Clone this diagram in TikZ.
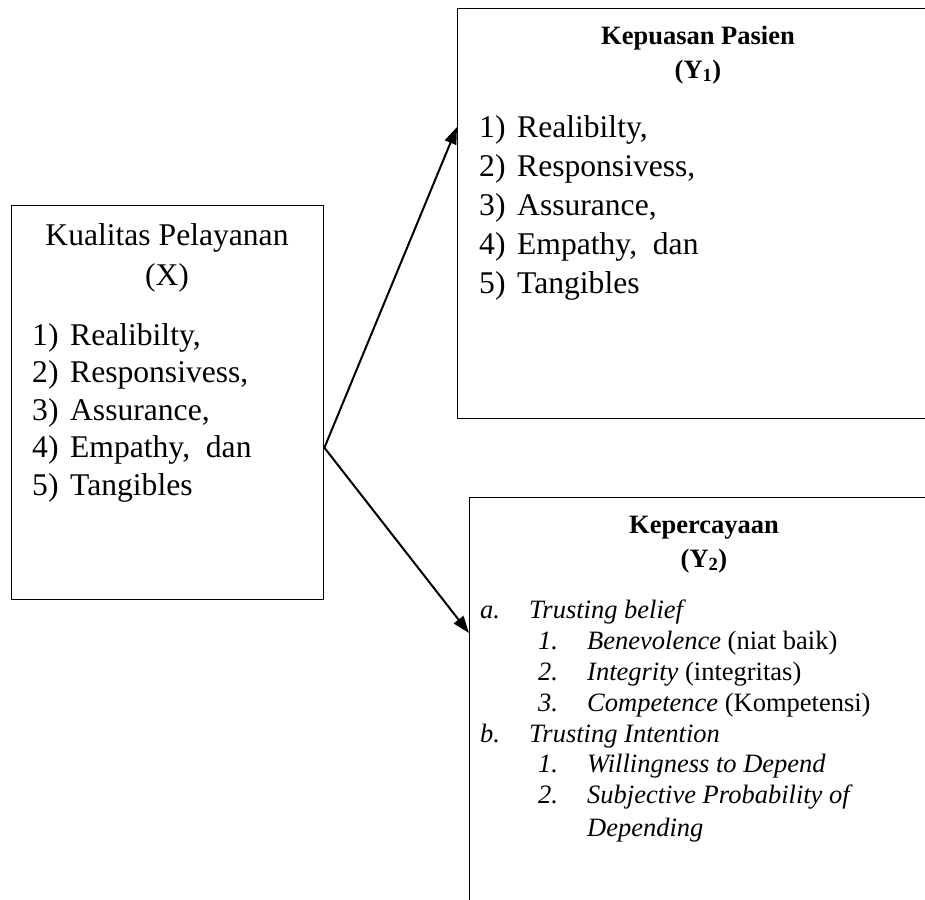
\documentclass[tikz,border=0pt]{standalone}
\usepackage{fontspec}
\setmainfont{Liberation Serif}
\usetikzlibrary{arrows.meta,calc}

\tikzset{
  box/.style={draw, line width=1.4pt, inner sep=0pt, anchor=north west},
  big/.style={font=\fontsize{31.6}{37.5}\selectfont},
  item/.style={anchor=base west, inner sep=0pt},
  head/.style={anchor=base, inner sep=0pt, font={\fontsize{26.5}{31}\selectfont\bfseries}},
  sub/.style={item, font={\fontsize{26.5}{31}\selectfont\itshape}},
  link/.style={-{Triangle[length=17pt,width=12pt]}, line width=2pt},
}

\begin{document}
\begin{tikzpicture}[x=1pt,y=-1pt]
    \clip (0,0) rectangle (925,899);

    % Boxes
    \node[box, minimum width=560pt, minimum height=410pt] (sat) at (457,8) {};
    \node[box, minimum width=312pt, minimum height=394pt] (qual) at (11,205) {};
    \node[box, minimum width=560pt, minimum height=460pt] (trust) at (469,497) {};

    % Kualitas Pelayanan
    \node[big, anchor=base, inner sep=0pt] (qualtitle) at (167,245) {Kualitas Pelayanan};
    \node[big, anchor=base, inner sep=0pt] (qualvar) at (167,285) {(X)};
    \foreach \t [count=\i] in {Realibilty{,}, Responsivess{,}, Assurance{,}, {Empathy,\ \ dan}, Tangibles}
        \node[big, item] (qual\i) at (32,{345+37.5*(\i-1)}) {\makebox[38pt][l]{\i)}\t};

    % Kepuasan Pasien
    \node[head] (sattitle) at (698,45) {Kepuasan Pasien};
    \node[head] (satvar) at (698,78) {(Y\textsubscript{1})};
    \foreach \t [count=\i] in {Realibilty{,}, Responsivess{,}, Assurance{,}, {Empathy,\ \ dan}, Tangibles}
        \node[big, item] (sat\i) at (479,{137+39*(\i-1)}) {\makebox[38pt][l]{\i)}\t};

    % Kepercayaan
    \node[head] (trusttitle) at (704,533) {Kepercayaan};
    \node[head] (trustvar) at (704,567) {(Y\textsubscript{2})};
    \node[sub] (tba) at (480,618) {\makebox[49pt][l]{a.}Trusting belief};
    \node[sub] (tb1) at (538,649) {\makebox[49pt][l]{1.}Benevolence\/ \upshape(niat baik)};
    \node[sub] (tb2) at (538,680) {\makebox[49pt][l]{2.}Integrity\/ \upshape(integritas)};
    \node[sub] (tb3) at (538,711) {\makebox[49pt][l]{3.}Competence\/ \upshape(Kompetensi)};
    \node[sub] (tib) at (480,742) {\makebox[49pt][l]{b.}Trusting Intention};
    \node[sub] (ti1) at (538,772) {\makebox[49pt][l]{1.}Willingness to Depend};
    \node[sub] (ti2) at (538,803) {\makebox[49pt][l]{2.}Subjective Probability of};
    \node[sub] (ti2b) at (587,836) {Depending};

    % Arrows
    \coordinate (fork) at ([yshift=-45pt]qual.east);
    \draw[link] (fork) -- ([yshift=-119pt]sat.north west);
    \draw[link] (fork) -- ([yshift=-136pt]trust.north west);
\end{tikzpicture}
\end{document}
